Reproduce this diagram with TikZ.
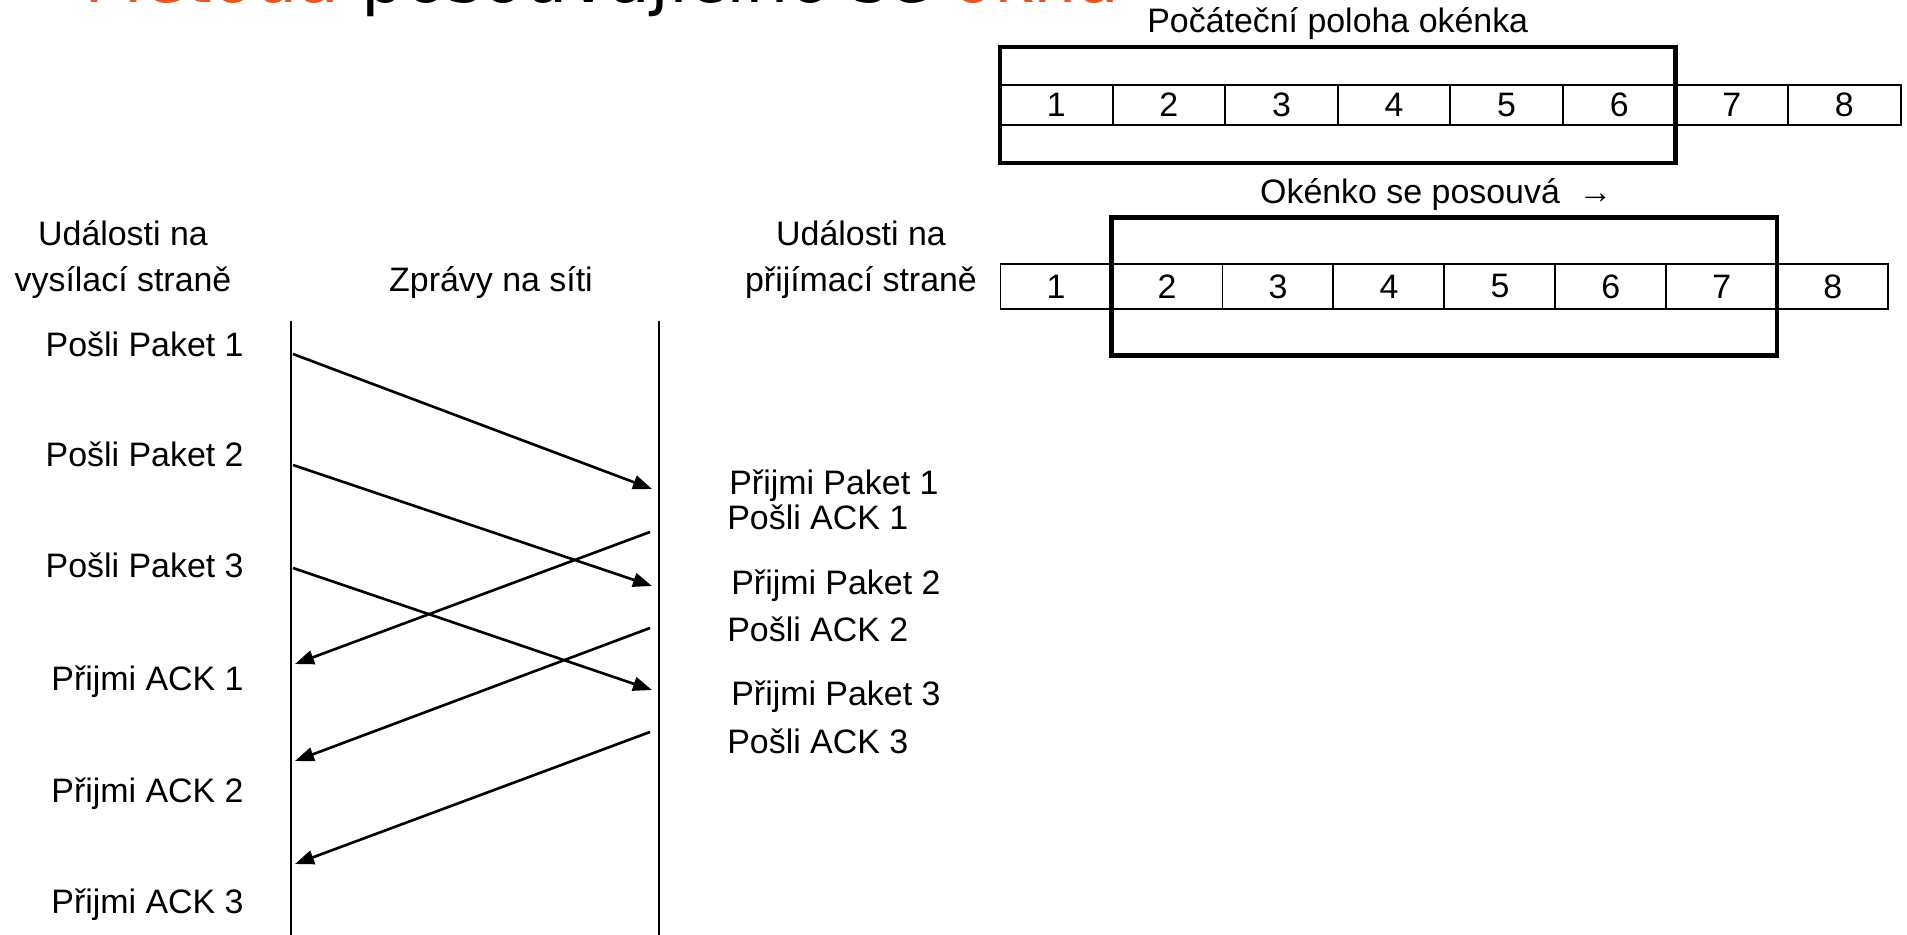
\documentclass[tikz,border=0pt]{standalone}
\usepackage{fontspec}
\setmainfont{Liberation Sans}
\newfontfamily\headfont{DejaVu Sans}
\usepackage{tikz}
\usetikzlibrary{chains,fit,positioning,arrows.meta}

\definecolor{headorange}{RGB}{233,84,32}

\begin{document}
\begin{tikzpicture}[x=0.02cm,y=-0.02cm]
\tikzstyle{every node}=[inner sep=0pt,font=\fontsize{19.3}{26.6}\selectfont]

\edef\cellwd{2.252cm}
\tikzstyle{cell}=[draw,line width=1.1pt,minimum width=\cellwd,minimum height=0.8cm,outer sep=0pt]
\tikzstyle{movedcell}=[cell,minimum width=2.22cm,minimum height=0.9cm]
\tikzstyle{window}=[draw,line width=2.3pt,inner xsep=0pt]
\tikzstyle{timeline}=[line width=0.95pt]
\tikzstyle{msg}=[line width=1.5pt,-{Triangle[length=0.38cm,width=0.28cm]}]

\useasboundingbox (0,0) rectangle (1907,935);

%% Slide heading, mostly above the page
\node [anchor=base west,font=\headfont\fontsize{39}{47}\selectfont] at (84,3) (heading)
    {\textcolor{headorange}{Metoda} posouvajícího se \textcolor{headorange}{okna}};

%% Window in its first position
\begin{scope}[start chain=1 going right,node distance=0pt]
    \node [on chain=1,cell] at (1056.3,105) (a1) {1};
    \node [on chain=1,cell] (a2) {2};
    \node [on chain=1,cell] (a3) {3};
    \node [on chain=1,cell] (a4) {4};
    \node [on chain=1,cell] (a5) {5};
    \node [on chain=1,cell] (a6) {6};
    \node [on chain=1,cell] (a7) {7};
    \node [on chain=1,cell] (a8) {8};
\end{scope}
\node [window,fit=(a1)(a6),inner ysep=0.76cm] (win1) {};
\node [anchor=base] at ([yshift=0.24cm]win1.north) (lab1) {Počáteční poloha okénka};

%% Window moved one frame to the right
\begin{scope}[start chain=2 going right,node distance=0pt]
    \node [on chain=2,movedcell] at (1056,286.5) (b1) {1};
    \node [on chain=2,movedcell] (b2) {2};
    \node [on chain=2,movedcell] (b3) {3};
    \node [on chain=2,movedcell] (b4) {4};
    \node [on chain=2,movedcell] (b5) {5};
    \node [on chain=2,movedcell] (b6) {6};
    \node [on chain=2,movedcell] (b7) {7};
    \node [on chain=2,movedcell] (b8) {8};
\end{scope}
\node [window,fit=(b2)(b7),inner ysep=0.93cm] (win2) {};
\node [anchor=base] at ([xshift=-0.16cm,yshift=0.24cm]win2.north) (lab2) {Okénko se posouvá \ →};

%% Column headings
\node [anchor=base,align=center] at (123,292) (sndhead) {Události na\\vysílací straně};
\node [anchor=base] at (491,292) (nethead) {Zprávy na síti};
\node [anchor=base,align=center] at (861,292) (rcvhead) {Události na\\přijímací straně};

%% Time lines of both sides
\coordinate (sndtop) at (291,321);
\coordinate (sndend) at (291,935);
\coordinate (rcvtop) at (659,321);
\coordinate (rcvend) at (659,935);
\draw [timeline] (sndtop) -- (sndend);
\draw [timeline] (rcvtop) -- (rcvend);

%% Sender events
\node [anchor=base east] at (244,357) (send1) {Pošli Paket 1};
\node [anchor=base east] at (244,467) (send2) {Pošli Paket 2};
\node [anchor=base east] at (244,578) (send3) {Pošli Paket 3};
\node [anchor=base east] at (244,690) (gotack1) {Přijmi ACK 1};
\node [anchor=base east] at (244,802) (gotack2) {Přijmi ACK 2};
\node [anchor=base east] at (244,913) (gotack3) {Přijmi ACK 3};

%% Receiver events
\node [anchor=base west] at (729,495) (recv1) {Přijmi Paket 1};
\node [anchor=base west] at (727,530) (ack1) {Pošli ACK 1};
\node [anchor=base west] at (731,595) (recv2) {Přijmi Paket 2};
\node [anchor=base west] at (727,642) (ack2) {Pošli ACK 2};
\node [anchor=base west] at (731,705) (recv3) {Přijmi Paket 3};
\node [anchor=base west] at (727,753) (ack3) {Pošli ACK 3};

%% Packets and acknowledgements on the wire
\coordinate (p1s) at (293,354);
\coordinate (p1r) at (652,489);
\coordinate (p2s) at (293,465);
\coordinate (p2r) at (652,586);
\coordinate (p3s) at (293,568);
\coordinate (p3r) at (652,690);
\coordinate (k1s) at (650,532);
\coordinate (k1r) at (295,664);
\coordinate (k2s) at (650,628);
\coordinate (k2r) at (295,761);
\coordinate (k3s) at (650,732);
\coordinate (k3r) at (295,864);

\draw [msg] (p1s) -- (p1r);
\draw [msg] (p2s) -- (p2r);
\draw [msg] (p3s) -- (p3r);
\draw [msg] (k1s) -- (k1r);
\draw [msg] (k2s) -- (k2r);
\draw [msg] (k3s) -- (k3r);
\end{tikzpicture}
\end{document}
